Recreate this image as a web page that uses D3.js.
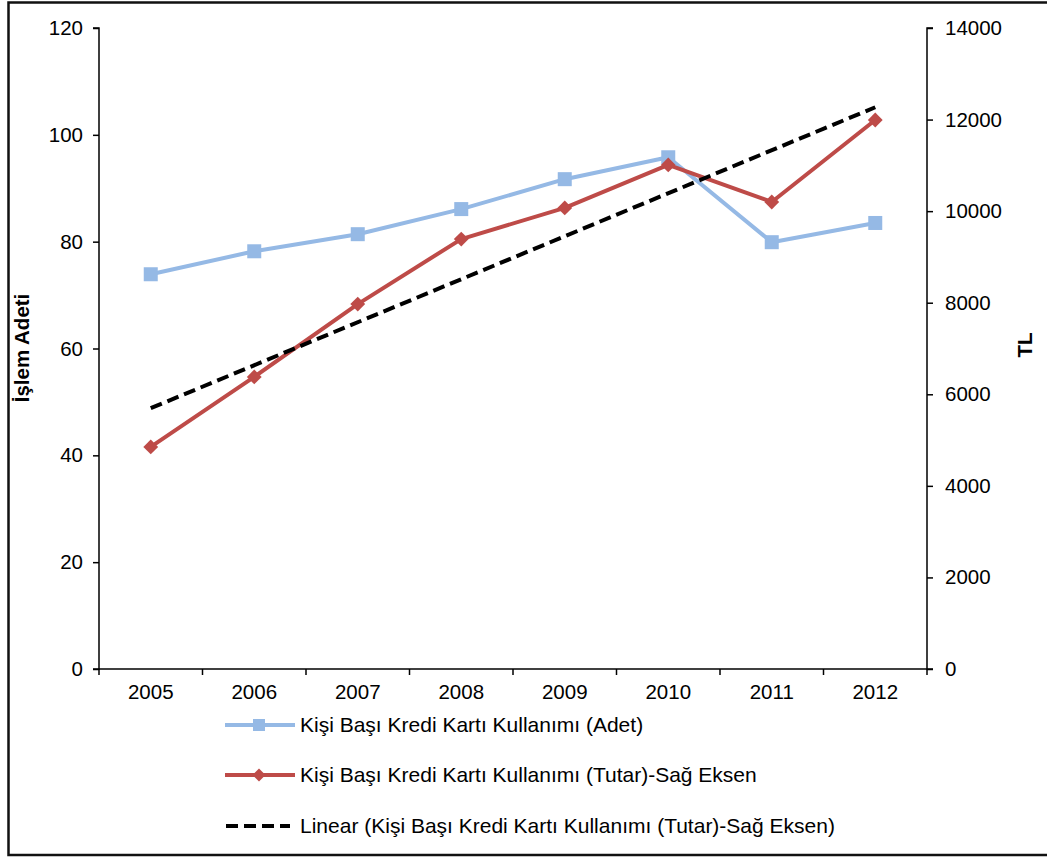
<!DOCTYPE html>
<html>
<head>
<meta charset="utf-8">
<script src="https://cdn.jsdelivr.net/npm/d3@7/dist/d3.min.js"></script>
<style>
  html, body { margin: 0; padding: 0; background: #fff; }
  svg { display: block; font-family: "Liberation Sans", Arial, sans-serif; }
</style>
</head>
<body>
<svg id="chart" width="1047" height="857"></svg>
<script>
// Per-capita credit card usage, 2005–2012
const years = ["2005", "2006", "2007", "2008", "2009", "2010", "2011", "2012"];
const adet = [73.9, 78.2, 81.4, 86.1, 91.7, 95.8, 79.9, 83.5];              // transactions (left axis)
const tutar = [4850, 6380, 7970, 9390, 10070, 11010, 10200, 11990];         // amount in TL (right axis)
const leftTicks = [0, 20, 40, 60, 80, 100, 120];
const rightTicks = [0, 2000, 4000, 6000, 8000, 10000, 12000, 14000];
const legendLabels = [
  "Kişi Başı Kredi Kartı Kullanımı (Adet)",
  "Kişi Başı Kredi Kartı Kullanımı (Tutar)-Sağ Eksen",
  "Linear (Kişi Başı Kredi Kartı Kullanımı (Tutar)-Sağ Eksen)"
];

const blue = "#95B9E5", red = "#BE4B48";
const fontSize = 20.5;
const svg = d3.select("#chart");

// outer frame
svg.append("rect").attr("x", 8.5).attr("y", 2.5).attr("width", 1060).attr("height", 852.5)
  .attr("fill", "none").attr("stroke", "#111").attr("stroke-width", 2.5);

const plot = { left: 99, right: 927, top: 28, bottom: 669 };

const x = d3.scaleBand().domain(years).range([plot.left, plot.right]);
const yL = d3.scaleLinear().domain([0, 120]).range([plot.bottom, plot.top]);
const yR = d3.scaleLinear().domain([0, 14000]).range([plot.bottom, plot.top]);
const cx = d => x(d) + x.bandwidth() / 2;

// axes
const axL = svg.append("g").attr("transform", `translate(${plot.left},0)`)
  .call(d3.axisLeft(yL).tickValues(leftTicks).tickSize(6).tickPadding(10));
const axR = svg.append("g").attr("transform", `translate(${plot.right},0)`)
  .call(d3.axisRight(yR).tickValues(rightTicks).tickFormat(d3.format("d")).tickSize(6).tickPadding(12));
const axB = svg.append("g").attr("transform", `translate(0,${plot.bottom})`)
  .call(d3.axisBottom(x).tickSize(0).tickPadding(15));
// category boundary ticks
svg.append("g").selectAll("line").data(d3.range(years.length + 1)).join("line")
  .attr("x1", i => plot.left + i * x.bandwidth()).attr("x2", i => plot.left + i * x.bandwidth())
  .attr("y1", plot.bottom).attr("y2", plot.bottom + 6)
  .attr("stroke", "#000").attr("stroke-width", 1.5);

[axL, axR, axB].forEach(g => {
  g.attr("font-size", fontSize).attr("font-family", "'Liberation Sans', Arial, sans-serif");
  g.selectAll(".domain").attr("stroke", "#000").attr("stroke-width", 1.5);
  g.selectAll(".tick line").attr("stroke", "#000").attr("stroke-width", 1.5);
  g.selectAll("text").attr("fill", "#000");
});
axL.select(".domain").attr("d", `M-6,${plot.top}H0V${plot.bottom}H-6`);
axR.select(".domain").attr("d", `M6,${plot.top}H0V${plot.bottom}H6`);
axB.select(".domain").attr("d", `M${plot.left},0H${plot.right}`);

// axis titles
svg.append("text").attr("transform", "translate(29,348) rotate(-90)")
  .attr("text-anchor", "middle").attr("font-size", 20.5).attr("font-weight", "bold")
  .text("İşlem Adeti");
svg.append("text").attr("transform", "translate(1032,345) rotate(-90)")
  .attr("text-anchor", "middle").attr("font-size", 20.5).attr("font-weight", "bold")
  .text("TL");

// least-squares trend of the amount series
const n = tutar.length, xs = d3.range(n);
const mx = d3.mean(xs), my = d3.mean(tutar);
const slope = d3.sum(xs, i => (i - mx) * (tutar[i] - my)) / d3.sum(xs, i => (i - mx) ** 2);
const icpt = my - slope * mx;
const trend = [0, n - 1].map(i => ({ year: years[i], v: icpt + slope * i }));

// series lines
const lineL = d3.line().x((d, i) => cx(years[i])).y(d => yL(d));
const lineR = d3.line().x((d, i) => cx(years[i])).y(d => yR(d));

svg.append("path").datum(adet).attr("d", lineL).attr("fill", "none")
  .attr("stroke", blue).attr("stroke-width", 4).attr("stroke-linejoin", "round");
svg.selectAll(".sq").data(adet).join("rect").attr("class", "sq")
  .attr("x", (d, i) => cx(years[i]) - 7).attr("y", d => yL(d) - 7)
  .attr("width", 14).attr("height", 14).attr("fill", blue);

svg.append("path").datum(tutar).attr("d", lineR).attr("fill", "none")
  .attr("stroke", red).attr("stroke-width", 4).attr("stroke-linejoin", "round");
svg.selectAll(".dm").data(tutar).join("path").attr("class", "dm")
  .attr("transform", (d, i) => `translate(${cx(years[i])},${yR(d)}) rotate(45)`)
  .attr("d", d3.symbol().type(d3.symbolSquare).size(110)).attr("fill", red);

svg.append("path").datum(trend)
  .attr("d", d3.line().x(d => cx(d.year)).y(d => yR(d.v)))
  .attr("fill", "none").attr("stroke", "#000").attr("stroke-width", 4)
  .attr("stroke-dasharray", "12,6");

// legend
const legY = [725, 775, 826];
const lg = svg.append("g");
legendLabels.forEach((lab, i) => {
  const y = legY[i];
  const g = lg.append("g");
  if (i === 2) {
    g.append("line").attr("x1", 226).attr("x2", 290).attr("y1", y).attr("y2", y)
      .attr("stroke", "#000").attr("stroke-width", 4).attr("stroke-dasharray", "12,6");
  } else {
    g.append("line").attr("x1", 225).attr("x2", 295).attr("y1", y).attr("y2", y)
      .attr("stroke", i === 0 ? blue : red).attr("stroke-width", 4);
    if (i === 0) {
      g.append("rect").attr("x", 253).attr("y", y - 6).attr("width", 12).attr("height", 12).attr("fill", blue);
    } else {
      g.append("path").attr("transform", `translate(259,${y}) rotate(45)`)
        .attr("d", d3.symbol().type(d3.symbolSquare).size(85)).attr("fill", red);
    }
  }
  g.append("text").attr("x", 300).attr("y", y).attr("dy", "0.35em")
    .attr("font-size", 21).attr("fill", "#000").text(lab);
});
</script>
</body>
</html>
